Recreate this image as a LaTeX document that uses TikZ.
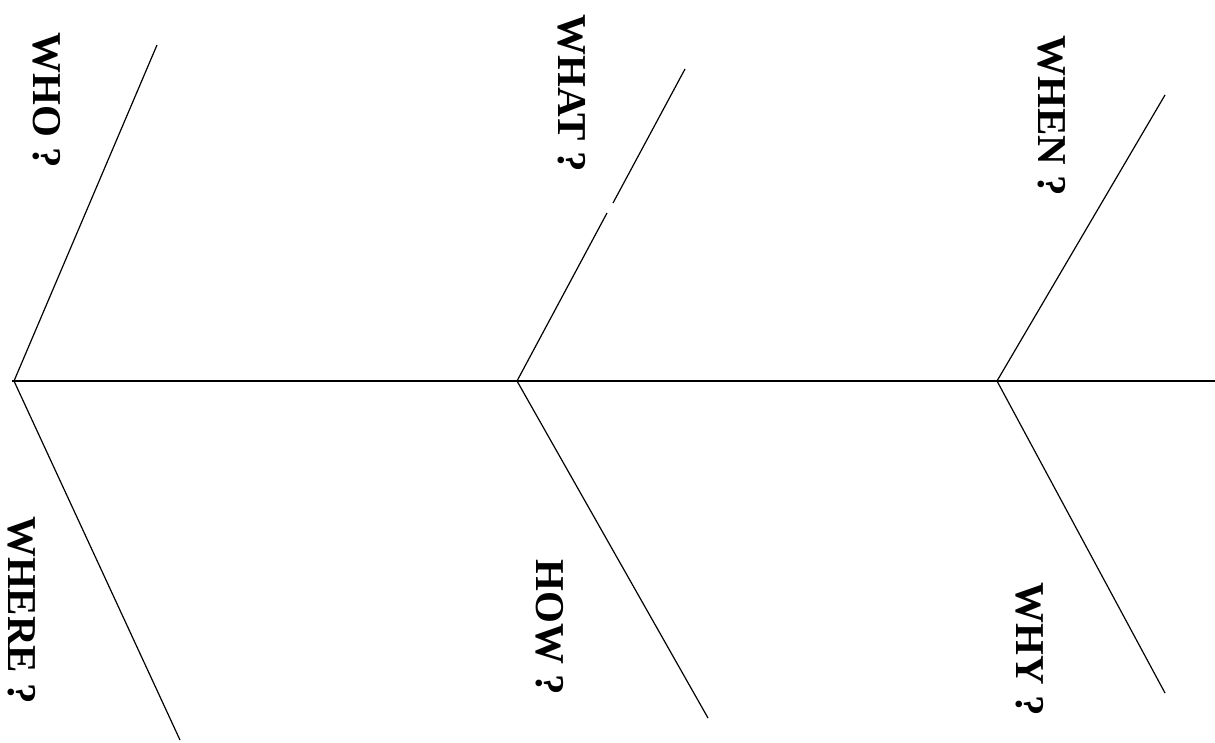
\documentclass[tikz,border=0pt]{standalone}
\usepackage{fontspec}
\setmainfont{Liberation Serif}
\begin{document}
\begin{tikzpicture}
  [x=1pt,y=-1pt,line width=1.2pt,
   every node/.style={rotate=-90,font=\fontsize{41}{41}\selectfont\bfseries,inner sep=0pt}]
  \useasboundingbox (0,0) rectangle (1215,742);

  % espina central
  \coordinate (j1) at (14,381);
  \coordinate (j2) at (517,381);
  \coordinate (j3) at (997,381);
  \coordinate (tail) at (1215,381);

  % puntas de las espinas
  \coordinate (t1) at (157,45);
  \coordinate (b1) at (180,740);
  \coordinate (t2) at (685,69);
  \coordinate (b2) at (708,718);
  \coordinate (t3) at (1165,95);
  \coordinate (b3) at (1165,693);

  % corte en la espina de WHAT
  \coordinate (g1) at (613,203);
  \coordinate (g2) at (607,213);

  \draw (12,381) -- (tail);
  \foreach \from/\to in {j1/t1, j1/b1, j2/b2, j3/t3, j3/b3, t2/g1, g2/j2}
    \draw (\from) -- (\to);

  % etiquetas
  \node (who)   at (47,100)   {WHO ?};
  \node (what)  at (572,93)   {WHAT ?};
  \node (when)  at (1052,116) {WHEN ?};
  \node (where) at (22,610)   {WHERE ?};
  \node (how)   at (550,627)  {HOW ?};
  \node (why)   at (1030,649) {WHY ?};
\end{tikzpicture}
\end{document}
